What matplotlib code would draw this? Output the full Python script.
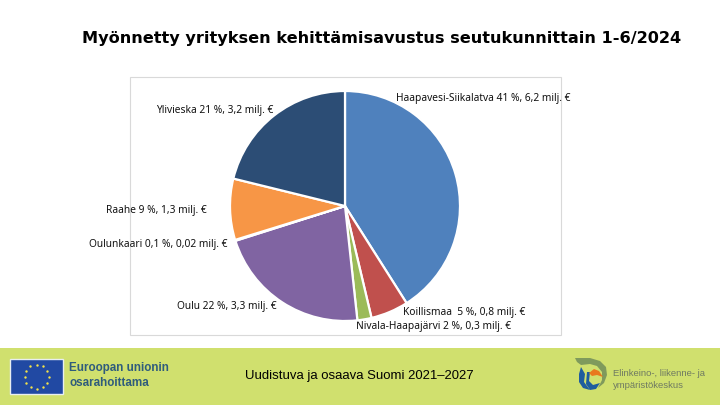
import matplotlib
matplotlib.use("Agg")
import matplotlib.pyplot as plt
from matplotlib.patches import Rectangle, Polygon
import numpy as np

plt.rcParams['font.family'] = ['Noto Sans', 'DejaVu Sans']

# milj. euroa per seutukunta, clockwise from the top
regions = ["Haapavesi-Siikalatva", "Koillismaa", "Nivala-Haapajärvi", "Oulu",
           "Oulunkaari", "Raahe", "Ylivieska"]
values = [6.2, 0.8, 0.3, 3.3, 0.02, 1.3, 3.2]
labels = ["Haapavesi-Siikalatva 41 %, 6,2 milj. €",
          "Koillismaa  5 %, 0,8 milj. €",
          "Nivala-Haapajärvi 2 %, 0,3 milj. €",
          "Oulu 22 %, 3,3 milj. €",
          "Oulunkaari 0,1 %, 0,02 milj. €",
          "Raahe 9 %, 1,3 milj. €",
          "Ylivieska 21 %, 3,2 milj. €"]
colors = ["#4f81bd", "#c0504d", "#9bbb59", "#8064a2", "#4bacc6", "#f79646", "#2c4d75"]
# left edge x, centre y in pixels
label_pos = [(396, 98), (403, 312), (356, 326), (177, 306), (89, 245), (106, 210), (156, 111)]

title = "Myönnetty yrityksen kehittämisavustus seutukunnittain 1-6/2024"
footer = "Uudistuva ja osaava Suomi 2021–2027"

W, H = 720, 405
fig = plt.figure(figsize=(W / 100, H / 100), dpi=100)

# whole slide in pixel coordinates
bg = fig.add_axes([0, 0, 1, 1])
bg.set_xlim(0, W)
bg.set_ylim(H, 0)
bg.axis("off")

bg.add_patch(Rectangle((130, 77), 431, 258, fc="white", ec="#d9d9d9", lw=0.8))
bg.add_patch(Rectangle((0, 348), W, 57, fc="#d0e06e", ec="none"))

bg.text(381.5, 39, title, fontsize=11.62, fontweight="bold", family="DejaVu Sans",
        ha="center", va="center", color="black")

# EU flag
bg.add_patch(Rectangle((10, 359), 53, 35, fc="#2149a3", ec="#e8eef0", lw=1))
a = np.arange(12) * np.pi / 6
bg.scatter(36.5 + 12 * np.cos(a), 376.5 + 12 * np.sin(a), s=3, c="#f4e34a", lw=0)
bg.text(69, 368.5, "Euroopan unionin", fontsize=8.4, fontweight="bold",
        family="Liberation Sans", color="#2f5c7c", va="center")
bg.text(69, 382.5, "osarahoittama", fontsize=8.4, fontweight="bold",
        family="Liberation Sans", color="#2f5c7c", va="center")

bg.text(359.5, 376, footer, fontsize=9.45, family="Liberation Sans", ha="center",
        va="center", color="black")

# ELY logo
bg.add_patch(Polygon([(575, 358), (590, 358), (600, 361), (606, 367), (607, 375), (604, 383),
                      (598, 388), (602, 380), (602, 372), (597, 366), (590, 364), (581, 365),
                      (577, 362)], fc="#7f9a5c", ec="none"))
bg.add_patch(Polygon([(581, 367), (585, 374), (584, 382), (590, 390), (583, 388), (579, 382),
                      (579, 374)], fc="#1f5d9e", ec="none"))
bg.add_patch(Polygon([(587, 372), (590, 372), (589, 381), (593, 385), (600, 383), (596, 389),
                      (590, 390), (586, 384)], fc="#1f5d9e", ec="none"))
bg.add_patch(Polygon([(589, 373), (594, 369), (599, 371), (603, 377), (597, 375), (592, 376)],
                     fc="#e8791e", ec="none"))
bg.text(613, 373, "Elinkeino-, liikenne- ja", fontsize=6.8, family="Liberation Sans",
        color="#6f7a62", va="center")
bg.text(613, 385, "ympäristökeskus", fontsize=6.8, family="Liberation Sans",
        color="#6f7a62", va="center")

# pie, 230..460 by 91..321 px
ax = fig.add_axes([230 / W, 1 - 321 / H, 230 / W, 230 / H])
ax.pie(values, colors=colors, startangle=90, counterclock=False,
       wedgeprops={"edgecolor": "white", "linewidth": 1.6})
ax.set_xlim(-1, 1)
ax.set_ylim(-1, 1)

for lab, (x, y) in zip(labels, label_pos):
    bg.text(x, y, lab, fontsize=7.35, color="#111111", va="center", ha="left", zorder=5)

fig.savefig("out.png", dpi=100)
